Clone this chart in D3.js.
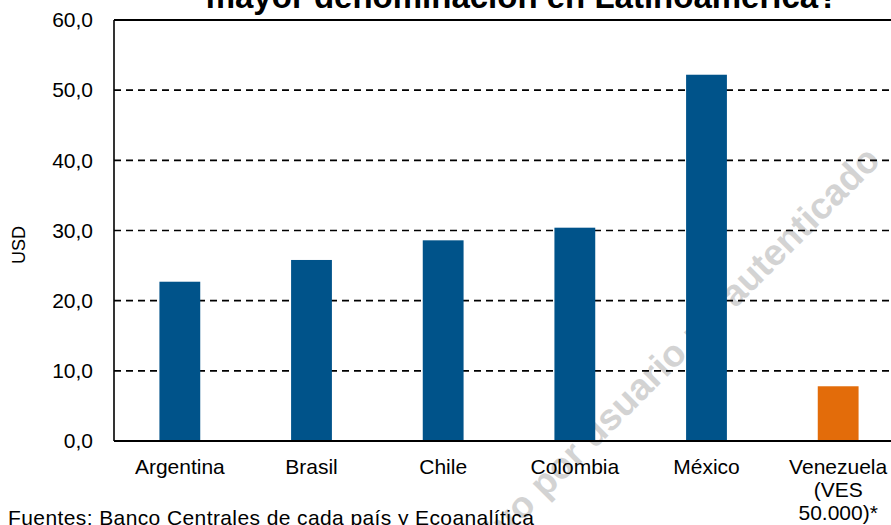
<!DOCTYPE html>
<html>
<head>
<meta charset="utf-8">
<script src="https://cdn.jsdelivr.net/npm/d3@7"></script>
<style>
  body { margin: 0; background: #fff; }
  text { font-family: "Liberation Sans", Arial, sans-serif; }
</style>
</head>
<body>
<svg width="891" height="525"></svg>
<script>
const countries = ["Argentina", "Brasil", "Chile", "Colombia", "México", "Venezuela (VES 50.000)*"];
const usd = [22.7, 25.8, 28.6, 30.4, 52.2, 7.8];
const barColors = ["#00538a", "#00538a", "#00538a", "#00538a", "#00538a", "#e36c0a"];
const yTicks = [0, 10, 20, 30, 40, 50, 60];

const svg = d3.select("svg");
const plotL = 114, plotR = 904, plotT = 20, plotB = 441;

const y = d3.scaleLinear().domain([0, 60]).range([plotB, plotT]);
const x = d3.scaleBand()
    .domain(countries)
    .range([plotL, plotR])
    .paddingInner(0.69)
    .paddingOuter(0.345);

// title (first line falls outside the picture)
svg.append("text")
    .attr("x", 522).attr("y", 8)
    .attr("text-anchor", "middle")
    .style("font-size", "33px").style("font-weight", "bold")
    .text("mayor denominación en Latinoamérica?");

// watermark
svg.append("text")
    .attr("transform", "translate(882,162) rotate(-45)")
    .attr("text-anchor", "end")
    .style("font-size", "37px")
    .style("font-weight", "bold")
    .style("fill", "#d3d3d3")
    .text("Uso exclusivo por usuario no autenticado");

// dashed grid
svg.append("g")
    .selectAll("line")
    .data(yTicks.filter(d => d > 0 && d < 60))
    .join("line")
    .attr("x1", plotL).attr("x2", plotR)
    .attr("y1", d => y(d)).attr("y2", d => y(d))
    .attr("stroke", "#000")
    .attr("stroke-width", 1.6)
    .attr("stroke-dasharray", "7,5");

// bars
svg.append("g")
    .selectAll("rect")
    .data(countries)
    .join("rect")
    .attr("x", d => x(d))
    .attr("width", x.bandwidth())
    .attr("y", (d, i) => y(usd[i]))
    .attr("height", (d, i) => plotB - y(usd[i]))
    .attr("fill", (d, i) => barColors[i]);

// frame
svg.append("line").attr("x1", plotL).attr("x2", plotR).attr("y1", plotT).attr("y2", plotT)
    .attr("stroke", "#000").attr("stroke-width", 2);
svg.append("line").attr("x1", plotL).attr("x2", plotL).attr("y1", plotT).attr("y2", plotB)
    .attr("stroke", "#000").attr("stroke-width", 1.6);

// y axis
const yAxis = svg.append("g")
    .attr("transform", `translate(${plotL},0)`)
    .call(d3.axisLeft(y).tickValues(yTicks).tickSize(0).tickPadding(21)
        .tickFormat(d => d3.format(".1f")(d).replace(".", ",")));
yAxis.select(".domain").remove();
yAxis.selectAll("text").style("font-size", "21px").style("fill", "#000")
    .style("font-family", "'Liberation Sans', Arial, sans-serif");

// x axis
const xAxis = svg.append("g")
    .attr("transform", `translate(0,${plotB})`)
    .call(d3.axisBottom(x).tickSize(0).tickPadding(18));
xAxis.select(".domain").attr("stroke", "#000").attr("stroke-width", 2.2)
    .attr("d", `M${plotL},0H${plotR}`);
xAxis.selectAll("text")
    .style("font-size", "21px").style("fill", "#000")
    .style("font-family", "'Liberation Sans', Arial, sans-serif")
    .each(function(d) {
        const t = d3.select(this);
        const parts = d.startsWith("Venezuela") ? ["Venezuela", "(VES", "50.000)*"] : [d];
        t.text(null);
        parts.forEach((p, i) => t.append("tspan").attr("x", 0).attr("dy", i ? "1.1em" : "0.71em").text(p));
    });

// y label
svg.append("text")
    .attr("transform", "translate(25,245) rotate(-90)")
    .attr("text-anchor", "middle")
    .style("font-size", "18px")
    .text("USD");

// source
svg.append("text")
    .attr("x", 8).attr("y", 525)
    .style("font-size", "21px")
    .style("letter-spacing", "0.4px")
    .text("Fuentes: Banco Centrales de cada país y Ecoanalítica");
</script>
</body>
</html>
